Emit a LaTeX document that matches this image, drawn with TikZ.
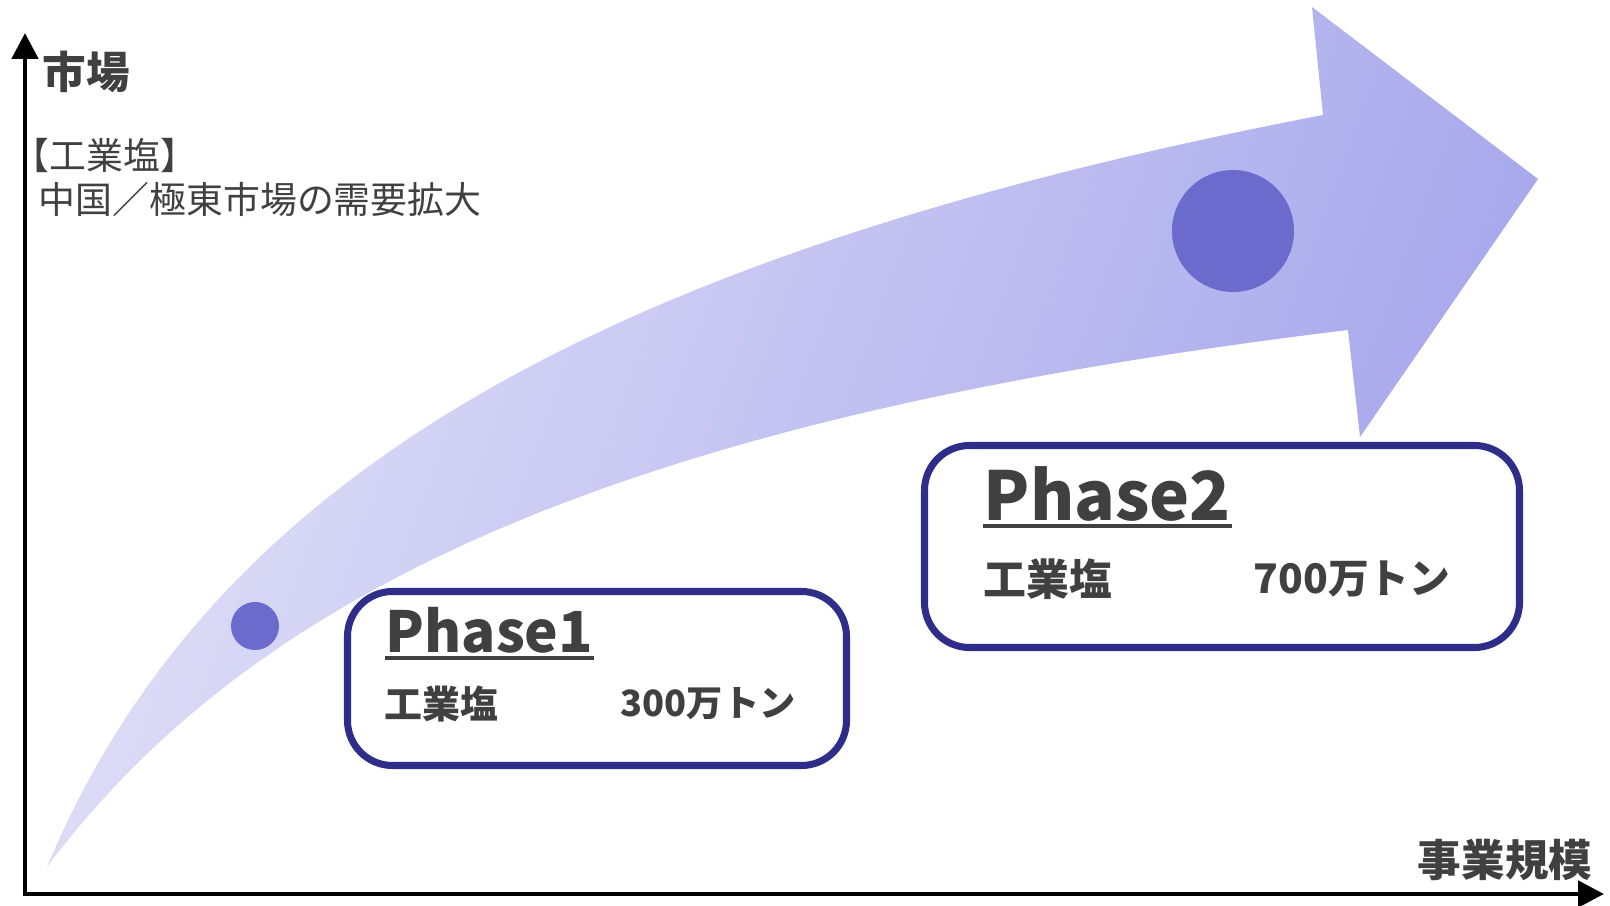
\documentclass[tikz,border=0pt]{standalone}
\usepackage{fontspec}
\setmainfont{Noto Sans}
\newfontfamily\jp{Noto Sans CJK JP}
\usetikzlibrary{arrows.meta}

\definecolor{arrowlo}{RGB}{224,224,247}
\definecolor{arrowhi}{RGB}{166,166,236}
\definecolor{dotblue}{RGB}{107,107,205}
\definecolor{frameblue}{RGB}{46,46,138}
\definecolor{txtgray}{RGB}{64,64,64}

\tikzset{
  axisline/.style = {line width = 1.4pt,
    {Triangle[length=2.6mm,width=2.6mm]}-{Triangle[length=2.6mm,width=2.6mm]}},
  marker/.style = {circle, fill = dotblue, inner sep = 0pt},
  phasebox/.style = {draw = frameblue, line width = 2pt, rounded corners = .45cm,
    fill = white, inner sep = 0pt},
  label/.style = {text = txtgray, inner sep = 0pt},
  uline/.style = {txtgray, line width = .9pt}
}

\begin{document}
\begin{tikzpicture}
  \useasboundingbox (0, 0) rectangle (16.10, 9.06);

  %%arrow
  \shade[left color = arrowlo, right color = arrowhi, shading angle = 70]
    (.47, .39) .. controls (2.08, 4.24) and (5.91, 6.50) .. (13.23, 7.91)
    -- (13.12, 8.99) -- (15.38, 7.27) -- (13.60, 4.69) -- (13.48, 5.76)
    .. controls (6.55, 4.92) and (2.65, 3.31) .. cycle;

    \node[marker, minimum size = .48cm](dot1) at (2.55, 2.80) {};
    \node[marker, minimum size = 1.22cm](dot2) at (12.33, 6.75) {};

  %%axes
  \coordinate (orig) at (.25, .12);
  \coordinate (ytip) at (.25, 8.73);
  \coordinate (xtip) at (16.04, .12);
  \draw[axisline] (ytip) -- (orig) -- (xtip);

    \node[label, anchor = west, font = \jp\bfseries\fontsize{12.4pt}{14pt}\selectfont]
      (market) at (.42, 8.34) {市場};
    \node[label, anchor = east, font = \jp\bfseries\fontsize{12.4pt}{14pt}\selectfont]
      (scale) at (15.93, .46) {事業規模};

    \node[label, anchor = west, font = \jp\fontsize{10.5pt}{12pt}\selectfont]
      (salt) at (.12, 7.51) {【工業塩】};
    \node[label, anchor = west, font = \jp\fontsize{10.5pt}{12pt}\selectfont]
      (demand) at (.38, 7.07) {中国／極東市場の需要拡大};

  %%phase1
  \node[phasebox, minimum width = 4.99cm, minimum height = 1.74cm](box1) at (5.97, 2.275) {};
    \node[label, anchor = base west, font = \jp\bfseries\fontsize{16.1pt}{18pt}\selectfont]
      (ph1) at (3.85, 2.53) {Phase1};
    \draw[uline] ([yshift = -.05cm]ph1.base west) -- ([yshift = -.05cm]ph1.base east);
    \node[label, anchor = west, font = \jp\bfseries\fontsize{10.8pt}{12pt}\selectfont]
      (salt1) at (3.84, 2.02) {工業塩};
    \node[label, anchor = west, font = \jp\bfseries\fontsize{10.3pt}{12pt}\selectfont]
      (ton1) at (6.20, 2.02) {300万トン};

  %%phase2
  \node[phasebox, minimum width = 5.95cm, minimum height = 2.02cm](box2) at (12.22, 3.595) {};
    \node[label, anchor = base west, font = \jp\bfseries\fontsize{19.2pt}{22pt}\selectfont]
      (ph2) at (9.83, 3.85) {Phase2};
    \draw[uline] ([yshift = -.05cm]ph2.base west) -- ([yshift = -.05cm]ph2.base east);
    \node[label, anchor = west, font = \jp\bfseries\fontsize{12.2pt}{14pt}\selectfont]
      (salt2) at (9.83, 3.27) {工業塩};
    \node[label, anchor = west, font = \jp\bfseries\fontsize{11.6pt}{14pt}\selectfont]
      (ton2) at (12.53, 3.27) {700万トン};

\end{tikzpicture}
\end{document}
